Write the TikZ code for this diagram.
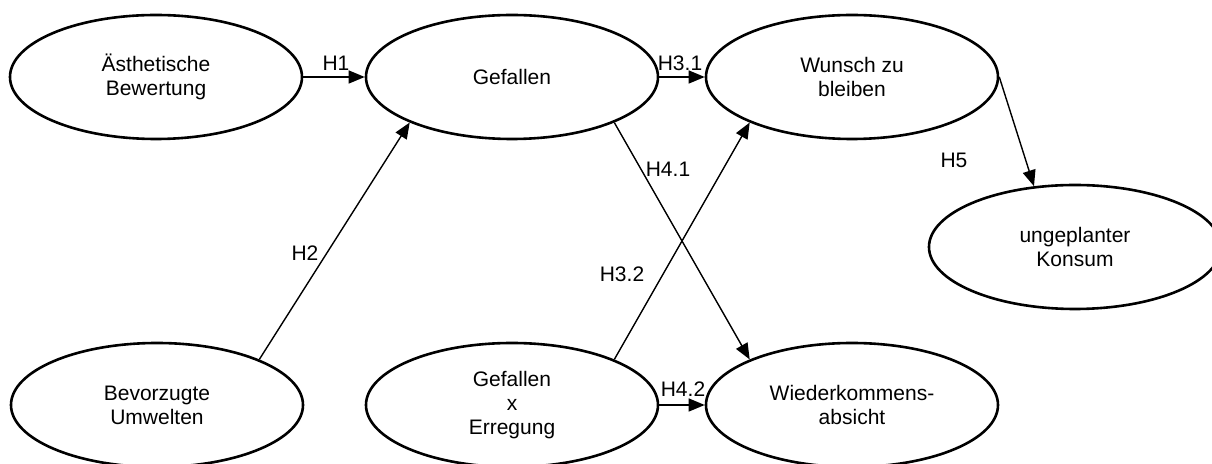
\documentclass[tikz,border=0pt]{standalone}
\usepackage{fontspec}
\setmainfont{Liberation Sans}
\usetikzlibrary{shapes.geometric,arrows.meta}
\begin{document}
\begin{tikzpicture}[x=0.5pt,y=-0.5pt,
  construct/.style={ellipse,draw,line width=1.3pt,minimum width=146pt,minimum height=62pt,inner sep=0pt,align=center,font=\fontsize{10.5}{12}\selectfont},
  path/.style={draw,line width=0.7pt,-{Triangle[length=8pt,width=6.5pt]}},
  hlabel/.style={font=\fontsize{10.5}{12}\selectfont,inner sep=0pt}]
\useasboundingbox (0,0) rectangle (1212,464);
\node[construct] (aes) at (156,77) {Ästhetische\\Bewertung};
\node[construct] (gef) at (512,77) {Gefallen};
\node[construct] (wun) at (852,77) {Wunsch zu\\bleiben};
\node[construct] (kon) at (1075,247) {ungeplanter\\Konsum};
\node[construct] (bev) at (157,405) {Bevorzugte\\Umwelten};
\node[construct] (gxe) at (512,405) {Gefallen\\x\\Erregung};
\node[construct] (wie) at (852,405) {Wiederkommens-\\absicht};
\draw[path] (aes.east) -- (gef.west);
\draw[path] (gef.east) -- (wun.west);
\draw[path] (gxe.east) -- (wie.west);
\draw[path] (bev.24) -- (gef.204);
\draw[path] (gef.336) -- (wie.156);
\draw[path] (gxe.24) -- (wun.204);
\draw[path] (wun.east) -- (kon.124);
\node[hlabel] (h1) at (336,63) {H1};
\node[hlabel] (h31) at (680,63) {H3.1};
\node[hlabel] (h42) at (683,389) {H4.2};
\node[hlabel] (h2) at (305,253) {H2};
\node[hlabel] (h41) at (668,169) {H4.1};
\node[hlabel] (h32) at (622,274) {H3.2};
\node[hlabel] (h5) at (954,160) {H5};
\end{tikzpicture}
\end{document}
